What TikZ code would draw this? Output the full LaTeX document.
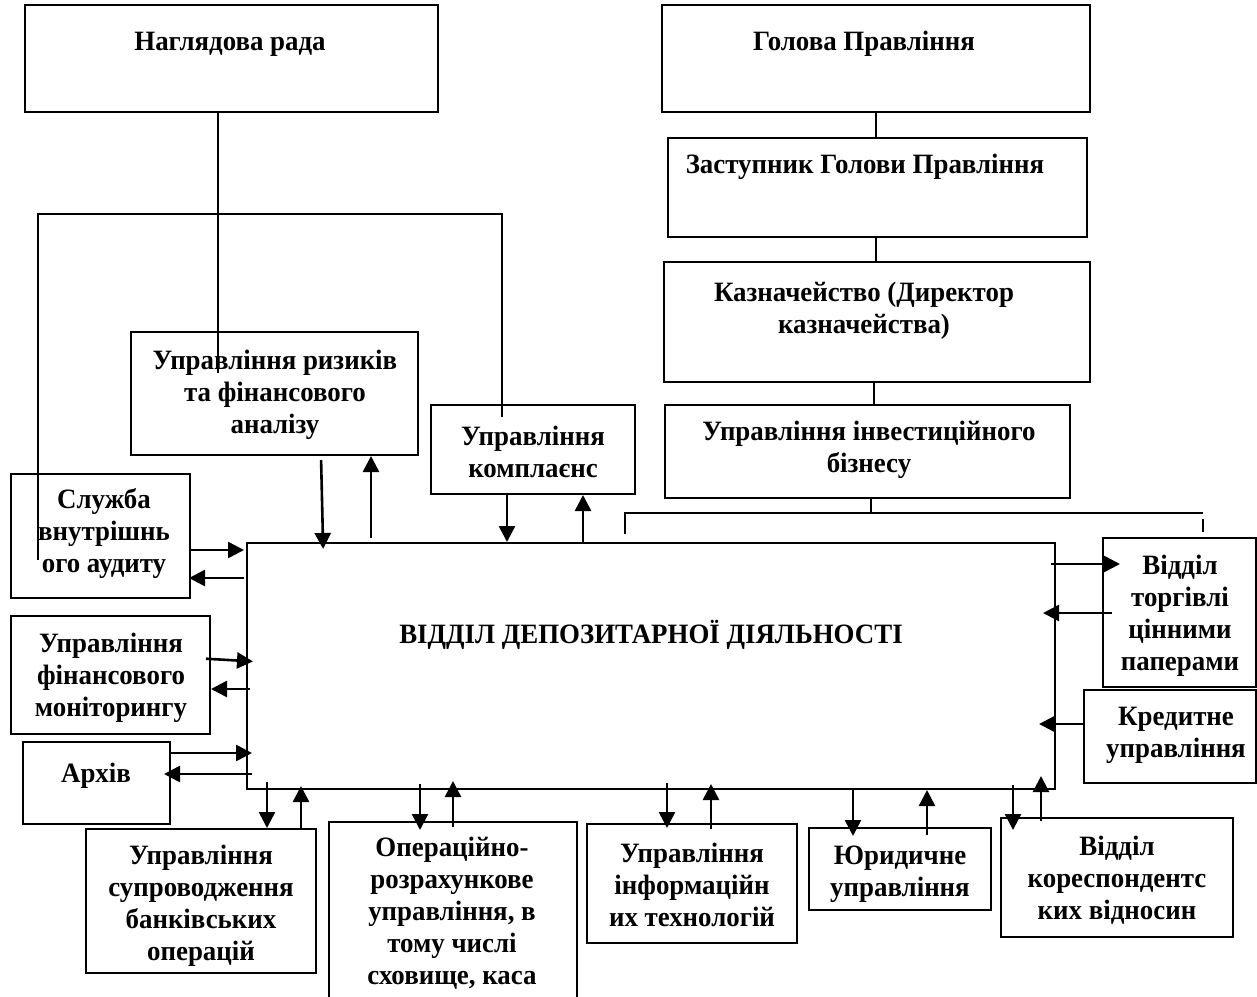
\documentclass[tikz,border=0pt]{standalone}
\usepackage{fontspec}
\setmainfont{Liberation Serif}[FakeStretch=0.96]
\usetikzlibrary{arrows.meta,fit}

\tikzset{
  box/.style={draw, line width=1pt, inner sep=0pt},
  txt/.style={align=center, inner sep=0pt, yshift=-1pt, font=\fontsize{14}{16}\selectfont\bfseries},
  ln/.style={line width=1pt},
  arr/.style={line width=1.3pt, -{Triangle[length=8pt,width=8pt]}}
}

\begin{document}
\begin{tikzpicture}[x=0.5pt,y=-0.5pt]
  \useasboundingbox (0,0) rectangle (1257,996);

  % boxes
  \node[box, fit={(25,5) (438,112)}] (nagl) {};
  \node[box, fit={(662,5) (1090,112)}] (head) {};
  \node[box, fit={(668,138) (1087,237)}] (deputy) {};
  \node[box, fit={(664,262) (1090,382)}] (treas) {};
  \node[box, fit={(665,405) (1070,498)}] (invest) {};
  \node[box, fit={(131,332) (418,455)}] (risk) {};
  \node[box, fit={(431,405) (635,494)}] (compl) {};
  \node[box, fit={(11,474) (190,598)}] (audit) {};
  \node[box, fit={(11,616) (210,734)}] (finmon) {};
  \node[box, fit={(23,742) (170,824)}] (arch) {};
  \node[box, fit={(247,543) (1055,789)}] (dep) {};
  \node[box, fit={(86,829) (316,973)}] (supr) {};
  \node[box, fit={(329,822) (577,1000)}] (oper) {};
  \node[box, fit={(587,824) (797,943)}] (infot) {};
  \node[box, fit={(809,828) (991,910)}] (jur) {};
  \node[box, fit={(1001,818) (1233,937)}] (corr) {};
  \node[box, fit={(1103,538) (1256,687)}] (trade) {};
  \node[box, fit={(1084,690) (1256,783)}] (credit) {};

  % texts
  \node[txt] (naglt) at (230,42) {Наглядова рада};
  \node[txt] (headt) at (864,42) {Голова Правління};
  \node[txt] (deputyt) at (865,165) {Заступник Голови Правління};
  \node[txt] (treast) at (864,309) {Казначейство (Директор\\казначейства)};
  \node[txt] (investt) at (869,448) {Управління інвестиційного\\бізнесу};
  \node[txt] (riskt) at (275,393) {Управління ризиків\\та фінансового\\аналізу};
  \node[txt] (complt) at (533,450) {Управління\\комплаєнс};
  \node[txt] (auditt) at (104,531) {Служба\\внутрішнь\\ого аудиту};
  \node[txt] (finmont) at (111,676) {Управління\\фінансового\\моніторингу};
  \node[txt] (archt) at (96,774) {Архів};
  \node[txt] (dept) at (651,633) {ВІДДІЛ ДЕПОЗИТАРНОЇ ДІЯЛЬНОСТІ};
  \node[txt] (suprt) at (201,904) {Управління\\супроводження\\банківських\\операцій};
  \node[txt] (opert) at (452,911) {Операційно-\\розрахункове\\управління, в\\тому числі\\сховище, каса};
  \node[txt] (infott) at (692,883) {Управління\\інформаційн\\их технологій};
  \node[txt] (jurt) at (900,872) {Юридичне\\управління};
  \node[txt] (corrt) at (1117,878) {Відділ\\кореспондентс\\ких відносин};
  \node[txt] (tradet) at (1180,614) {Відділ\\торгівлі\\цінними\\паперами};
  \node[txt] (creditt) at (1176,733) {Кредитне\\управління};

  % plain lines
  \coordinate (naglend) at (218,373);
  \draw[ln] (naglend |- nagl.south) -- (naglend);
  \draw[ln] (head.south) -- (head.south |- deputy.north);
  \draw[ln] (876,0 |- deputy.south) -- (876,0 |- treas.north);
  \draw[ln] (874,0 |- treas.south) -- (874,0 |- invest.north);
  \coordinate (brl) at (625,513);
  \coordinate (brr) at (1203,513);
  \draw[ln] (871,0 |- invest.south) -- (871,0 |- brl);
  \draw[ln] (brl |- 0,534) -- (brl) -- (brr);
  \draw[ln] ([yshift=-3pt]brr) -- ++(0,13);
  \coordinate (auditend) at (38,560);
  \coordinate (complend) at (502,417);
  \draw[ln] (auditend) -- (auditend |- 0,214) -| (complend);

  % arrows, top
  \draw[arr, shorten <=2pt, shorten >=-3.5pt] (321,0 |- risk.south) -- (323,0 |- dep.north);
  \draw[arr, shorten <=2pt] (371,0 |- dep.north) -- (371,0 |- risk.south);
  \draw[arr] (507,0 |- compl.south) -- (507,0 |- dep.north);
  \draw[arr] (583,0 |- dep.north) -- (583,0 |- compl.south);
  % arrows, left
  \draw[arr, shorten >=1pt] (audit.east |- 0,550) -- (dep.west |- 0,550);
  \draw[arr, shorten <=1pt, shorten >=-1pt] (dep.west |- 0,578) -- (audit.east |- 0,578);
  \draw[arr, shorten <=-2.5pt, shorten >=-3.5pt] (finmon.east |- 0,659) -- (dep.west |- 0,661);
  \draw[arr, shorten <=-2pt] (dep.west |- 0,689) -- (finmon.east |- 0,689);
  \draw[arr, shorten >=-3pt] (arch.east |- 0,753) -- (dep.west |- 0,753);
  \draw[arr, shorten <=-3pt, shorten >=-3.5pt] (dep.west |- 0,774) -- (arch.east |- 0,774);
  % arrows, bottom
  \draw[arr, shorten <=-4pt] (267,0 |- dep.south) -- (267,0 |- supr.north);
  \draw[arr, shorten >=-2pt] (301,0 |- supr.north) -- (301,0 |- dep.south);
  \draw[arr, shorten <=-3pt, shorten >=-4.5pt] (420,0 |- dep.south) -- (420,0 |- oper.north);
  \draw[arr, shorten <=-3pt, shorten >=-4.5pt] (453,0 |- oper.north) -- (453,0 |- dep.south);
  \draw[arr, shorten <=-3.5pt, shorten >=-2.5pt] (667,0 |- dep.south) -- (667,0 |- infot.north);
  \draw[arr, shorten <=-3pt, shorten >=-3pt] (711,0 |- infot.north) -- (711,0 |- dep.south);
  \draw[arr, shorten >=-4.5pt] (853,0 |- dep.south) -- (853,0 |- jur.north);
  \draw[arr, shorten <=-4pt] (927,0 |- jur.north) -- (927,0 |- dep.south);
  \draw[arr, shorten <=-2.5pt, shorten >=-6.5pt] (1013,0 |- dep.south) -- (1013,0 |- corr.north);
  \draw[arr, shorten <=-2pt, shorten >=-7pt] (1041,0 |- corr.north) -- (1041,0 |- dep.south);
  % arrows, right
  \draw[arr, shorten <=-2.5pt, shorten >=-9pt] (dep.east |- 0,564) -- (trade.west |- 0,564);
  \draw[arr, shorten <=-5pt, shorten >=-6.5pt] (trade.west |- 0,613) -- (dep.east |- 0,613);
  \draw[arr, shorten >=-8.5pt] (credit.west |- 0,724) -- (dep.east |- 0,724);
\end{tikzpicture}
\end{document}
